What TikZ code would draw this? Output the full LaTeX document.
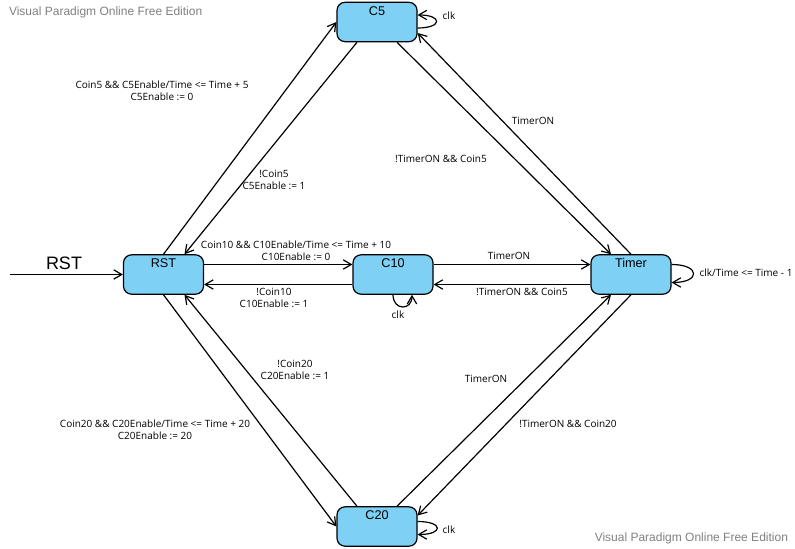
\documentclass[tikz,border=0pt]{standalone}
\usepackage{fontspec}
\setmainfont{Open Sans}
\newfontfamily\arialfont{Liberation Sans}
\usetikzlibrary{arrows.meta}
\definecolor{stateblue}{RGB}{126,208,245}
\definecolor{wmgrey}{RGB}{128,128,128}

\begin{document}
\begin{tikzpicture}[x=0.75pt, y=-0.75pt, >={Straight Barb[length=6pt,width=7pt]}, line width=0.9pt,
  every node/.style={font=\fontsize{7.5}{9}\selectfont, align=center},
  state/.style={draw, rounded corners=6pt, fill=stateblue, minimum width=60pt, minimum height=29.5pt,
    inner sep=2.5pt, text height=7pt, text depth=17pt, font=\arialfont\fontsize{9.5}{11}\selectfont}]
\useasboundingbox (0,0) rectangle (795,549);
\node[state] (C5) at (377,22) {C5};
\node[state] (RST) at (163.5,274.5) {RST};
\node[state] (C10) at (393,274.5) {C10};
\node[state] (Timer) at (631,274.5) {Timer};
\node[state] (C20) at (377,526.5) {C20};
\coordinate (start) at (10,274.5);
\node[font=\arialfont\fontsize{13.5}{15}\selectfont] (rstin) at (64,263) {RST};
\draw[->] (start) -- (RST);
% RST <-> C5
\draw[->] (RST.north) -- (C5.west);
\draw[->] ([shift={(-20,0)}]C5.south) -- ([shift={(21,0)}]RST.north);
% C5 <-> Timer
\draw[->] ([shift={(20,0)}]C5.south) -- ([shift={(-20,0)}]Timer.north);
\draw[->] (Timer.north) -- ([shift={(0,11)}]C5.east);
% RST <-> C10 <-> Timer
\draw[->] ([shift={(0,-10)}]RST.east) -- ([shift={(0,-10)}]C10.west);
\draw[->] ([shift={(0,10)}]C10.west) -- ([shift={(0,10)}]RST.east);
\draw[->] ([shift={(0,-10)}]C10.east) -- ([shift={(0,-10)}]Timer.west);
\draw[->] ([shift={(0,10)}]Timer.west) -- ([shift={(0,10)}]C10.east);
% RST <-> C20
\draw[->] (RST.south) -- (C20.west);
\draw[->] ([shift={(-20,0)}]C20.north) -- ([shift={(21,0)}]RST.south);
% C20 <-> Timer
\draw[->] ([shift={(20,0)}]C20.north) -- ([shift={(-20,0)}]Timer.south);
\draw[->] (Timer.south) -- ([shift={(0,-11)}]C20.east);
% self loops
\draw[->] ([shift={(0,6)}]C5.east) .. controls +(25,0) and +(25,0) .. ([shift={(0,-7)}]C5.east);
\draw[->] (C10.south) .. controls +(0,16) and +(0,16) .. ([shift={(19,0)}]C10.south);
\draw[->] ([shift={(0,-10)}]Timer.east) .. controls +(29,0) and +(29,0) .. ([shift={(0,8)}]Timer.east);
\draw[->] ([shift={(0,-5)}]C20.east) .. controls +(26,0) and +(26,0) .. ([shift={(0,8)}]C20.east);
% labels
\node (l1) at (162,91) {Coin5 \&\& C5Enable/Time <= Time + 5\\C5Enable := 0};
\node (l2) at (274,180) {!Coin5\\C5Enable := 1};
\node (l3) at (533,121) {TimerON};
\node (l4) at (441,159) {!TimerON \&\& Coin5};
\node (l5) at (296,251) {Coin10 \&\& C10Enable/Time <= Time + 10\\C10Enable := 0};
\node (l6) at (274,298) {!Coin10\\C10Enable := 1};
\node (l7) at (509,256) {TimerON};
\node (l8) at (522,292) {!TimerON \&\& Coin5};
\node (l9) at (295,370) {!Coin20\\C20Enable := 1};
\node (l10) at (155,430) {Coin20 \&\& C20Enable/Time <= Time + 20\\C20Enable := 20};
\node (l11) at (486,379) {TimerON};
\node (l12) at (568,424) {!TimerON \&\& Coin20};
\node (k1) at (449,16) {clk};
\node (k2) at (398,315) {clk};
\node (k3) at (449,530) {clk};
\node (k4) at (746,273) {clk/Time <= Time - 1};
% watermarks
\node[anchor=west, text=wmgrey, font=\arialfont\fontsize{9}{11}\selectfont] (wm1) at (4,12) {Visual Paradigm Online Free Edition};
\node[anchor=east, text=wmgrey, font=\arialfont\fontsize{9}{11}\selectfont] (wm2) at (793,538) {Visual Paradigm Online Free Edition};
\end{tikzpicture}
\end{document}
